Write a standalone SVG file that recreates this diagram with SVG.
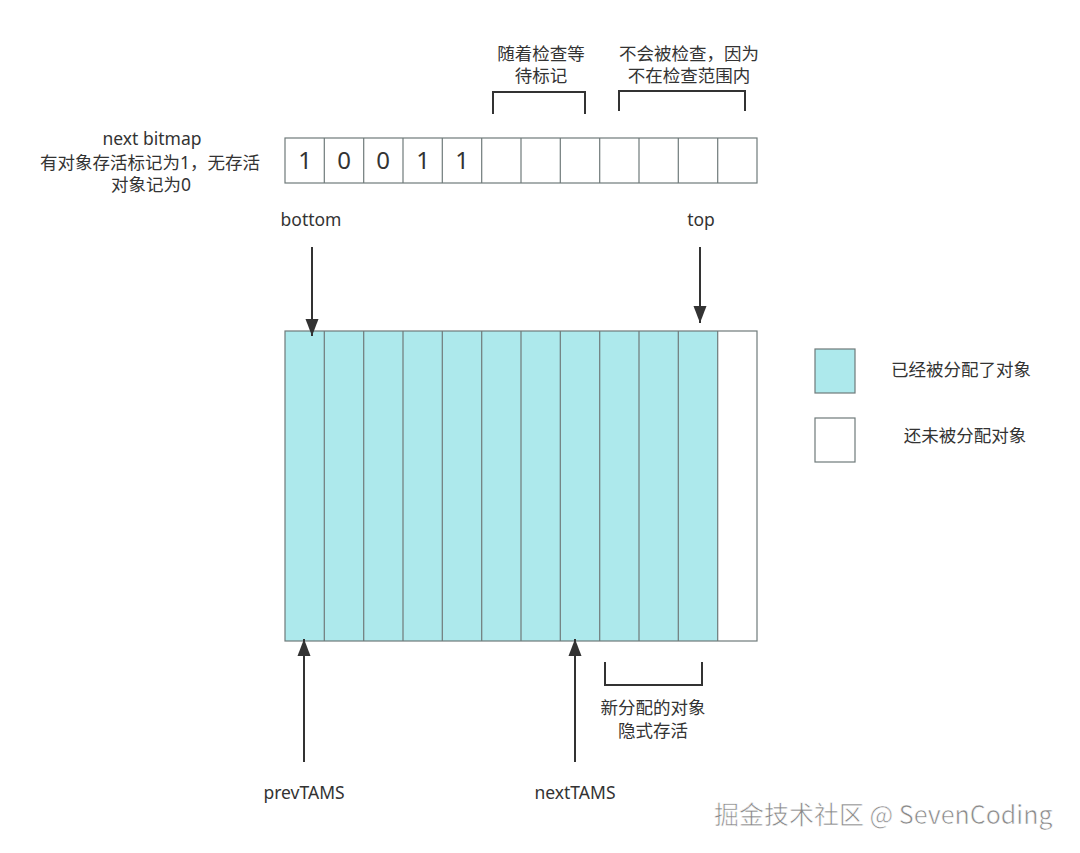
<svg xmlns="http://www.w3.org/2000/svg" width="1080" height="853" viewBox="0 0 1080 853">
<defs>
<style>
.t{font-family:"Noto Sans","Noto Sans CJK SC",sans-serif;font-size:17.5px;fill:#333;text-anchor:middle}
.n{font-family:"Noto Sans",sans-serif;font-size:24px;fill:#333;text-anchor:middle}
.cell{stroke:#6f7a7a;stroke-width:1.2}
.br{fill:none;stroke:#333;stroke-width:2}
.ar{stroke:#333;stroke-width:2;fill:none}
.wm{font-family:"Noto Sans CJK SC",sans-serif;font-size:25px;fill:#888;stroke:#fff;stroke-width:0.6;text-anchor:start}
</style>
<marker id="head" viewBox="0 0 17 14" markerWidth="17" markerHeight="14" refX="17" refY="7" orient="auto" markerUnits="userSpaceOnUse">
<path d="M0,0.5 L17,7 L0,13.5 Z" fill="#333"/>
</marker>
</defs>

<g id="bitmap-label">
<text class="t" x="152" y="145">next bitmap</text>
<text class="t" x="150" y="169">有对象存活标记为1，无存活</text>
<text class="t" x="151" y="191">对象记为0</text>
</g>

<g id="bitmap">
<rect x="285" y="138" width="472" height="45" fill="#fff" class="cell"/>
<g class="cell">
<line x1="324.3" y1="138" x2="324.3" y2="183"/>
<line x1="363.7" y1="138" x2="363.7" y2="183"/>
<line x1="403" y1="138" x2="403" y2="183"/>
<line x1="442.3" y1="138" x2="442.3" y2="183"/>
<line x1="481.7" y1="138" x2="481.7" y2="183"/>
<line x1="521" y1="138" x2="521" y2="183"/>
<line x1="560.3" y1="138" x2="560.3" y2="183"/>
<line x1="599.7" y1="138" x2="599.7" y2="183"/>
<line x1="639" y1="138" x2="639" y2="183"/>
<line x1="678.3" y1="138" x2="678.3" y2="183"/>
<line x1="717.7" y1="138" x2="717.7" y2="183"/>
</g>
<text class="n" x="305" y="169">1</text>
<text class="n" x="344" y="169">0</text>
<text class="n" x="383" y="169">0</text>
<text class="n" x="423" y="169">1</text>
<text class="n" x="462" y="169">1</text>
</g>

<g id="bracket-pending">
<text class="t" x="541" y="60">随着检查等</text>
<text class="t" x="541" y="82">待标记</text>
<path class="br" d="M493,114 V92 H585 V114"/>
</g>

<g id="bracket-unchecked">
<text class="t" x="689" y="60">不会被检查，因为</text>
<text class="t" x="689" y="82">不在检查范围内</text>
<path class="br" d="M619,111 V91 H745 V111"/>
</g>

<g id="label-bottom"><text class="t" x="311" y="226">bottom</text></g>
<g id="label-top"><text class="t" x="701" y="226">top</text></g>

<g id="heap">
<rect x="285" y="331" width="433" height="310" fill="#ade9ec"/>
<rect x="285" y="331" width="472" height="310" fill="none" class="cell"/>
<g class="cell">
<line x1="324.3" y1="331" x2="324.3" y2="641"/>
<line x1="363.7" y1="331" x2="363.7" y2="641"/>
<line x1="403" y1="331" x2="403" y2="641"/>
<line x1="442.3" y1="331" x2="442.3" y2="641"/>
<line x1="481.7" y1="331" x2="481.7" y2="641"/>
<line x1="521" y1="331" x2="521" y2="641"/>
<line x1="560.3" y1="331" x2="560.3" y2="641"/>
<line x1="599.7" y1="331" x2="599.7" y2="641"/>
<line x1="639" y1="331" x2="639" y2="641"/>
<line x1="678.3" y1="331" x2="678.3" y2="641"/>
<line x1="717.7" y1="331" x2="717.7" y2="641"/>
</g>
</g>

<g id="connectors">
<line class="ar" x1="312" y1="247" x2="312" y2="336" marker-end="url(#head)"/>
<line class="ar" x1="700" y1="247" x2="700" y2="323" marker-end="url(#head)"/>
<line class="ar" x1="304" y1="762" x2="304" y2="639" marker-end="url(#head)"/>
<line class="ar" x1="575" y1="762" x2="575" y2="639" marker-end="url(#head)"/>
</g>

<g id="bracket-new">
<path class="br" d="M605,662 V685 H702 V662"/>
<text class="t" x="653" y="714">新分配的对象</text>
<text class="t" x="653" y="737">隐式存活</text>
</g>

<g id="label-prevTAMS"><text class="t" x="304" y="799">prevTAMS</text></g>
<g id="label-nextTAMS"><text class="t" x="575" y="799">nextTAMS</text></g>

<g id="legend-allocated">
<rect x="815" y="349" width="40" height="44" fill="#ade9ec" class="cell"/>
<text class="t" x="961" y="376">已经被分配了对象</text>
</g>
<g id="legend-free">
<rect x="815" y="418" width="40" height="44" fill="#fff" class="cell"/>
<text class="t" x="965" y="442">还未被分配对象</text>
</g>

<text class="wm" x="714" y="824">掘金技术社区 @ SevenCoding</text>
</svg>
